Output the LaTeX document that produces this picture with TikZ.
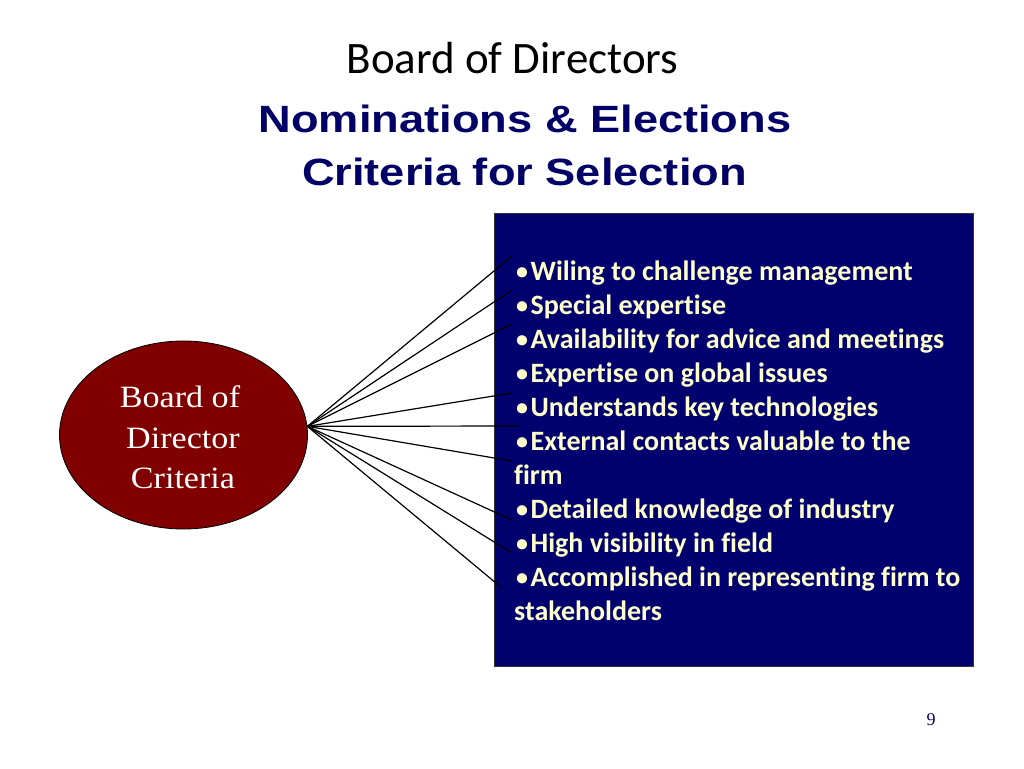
\documentclass[tikz,border=0pt]{standalone}
\usepackage{fontspec}
\usepackage{graphicx}
\setmainfont{Carlito}[Ligatures=NoCommon]
\newfontfamily\arialf{Liberation Sans}
\newfontfamily\timesf{Liberation Serif}
\usetikzlibrary{shapes.geometric}
\definecolor{navybox}{RGB}{0,0,110}
\definecolor{cream}{RGB}{255,255,204}
\definecolor{navytext}{RGB}{0,0,102}
\definecolor{maroonfill}{RGB}{128,0,0}
\newcommand{\bul}{\raisebox{1pt}{\fontsize{24}{24}\selectfont•}\hspace{2.5pt}}
\tikzset{
  txt/.style={inner sep=0pt, anchor=base},
  subtitle/.style={txt, text=navytext, font=\arialf\bfseries\fontsize{38}{44}\selectfont},
  ellabel/.style={txt, text=white, font=\timesf\fontsize{31}{36}\selectfont},
  bullet/.style={inner sep=0pt, anchor=base west, text=cream, font=\bfseries\fontsize{28}{34}\selectfont},
  conn/.style={draw=black, line width=1.2pt},
}
\begin{document}
\begin{tikzpicture}[x=1pt,y=-1pt]
  \fill[white] (0,0) rectangle (1024,768);
  \useasboundingbox (0,0) rectangle (1024,768);

  % titles
  \node[txt, font=\fontsize{45}{52}\selectfont] (t1) at (512.5,74) {Board of Directors};
  \node[subtitle] (t2) at (525,132) {\scalebox{1.19}[1]{Nominations \& Elections}};
  \node[subtitle] (t3) at (524.5,185) {\scalebox{1.19}[1]{Criteria for Selection}};

  % criteria box
  \node[draw=black!80, line width=0.6pt, fill=navybox, minimum width=479pt, minimum height=453pt,
        inner sep=0pt, anchor=north west] (box) at (494,213) {};

  \node[bullet] (l1) at (516,280) {\bul Wiling to challenge management};
  \node[bullet] (l2) at (516,314) {\bul Special expertise};
  \node[bullet] (l3) at (516,348) {\bul Availability for advice and meetings};
  \node[bullet] (l4) at (516,382) {\bul Expertise on global issues};
  \node[bullet] (l5) at (516,416) {\bul Understands key technologies};
  \node[bullet] (l6) at (516,450) {\bul External contacts valuable to the};
  \node[bullet] (l6b) at (514,484) {firm};
  \node[bullet] (l7) at (516,518) {\bul Detailed knowledge of industry};
  \node[bullet] (l8) at (516,552) {\bul High visibility in field};
  \node[bullet] (l9) at (516,586) {\bul Accomplished in representing firm to};
  \node[bullet] (l9b) at (514,620) {stakeholders};

  % ellipse
  \node[ellipse, draw=black, line width=0.8pt, fill=maroonfill, minimum width=248pt,
        minimum height=188pt, inner sep=0pt] (bod) at (183.5,435) {};
  \node[ellabel] (e1) at (180,407) {\scalebox{1.1}[1]{Board of}};
  \node[ellabel] (e2) at (183,448) {\scalebox{1.1}[1]{Director}};
  \node[ellabel] (e3) at (183,488) {\scalebox{1.1}[1]{Criteria}};

  % connector ends
  \coordinate (c1) at (512,256);
  \coordinate (c2) at (512,290);
  \coordinate (c3) at (512,324);
  \coordinate (c4) at (512,393);
  \coordinate (c5) at (520,426);
  \coordinate (c6) at (512,461);
  \coordinate (c7) at (512,520);
  \coordinate (c8) at (512,553);
  \coordinate (c9) at (502,588);
  \foreach \c in {c1,c2,c3,c4,c5,c6,c7,c8,c9}
    \draw[conn] (bod.4) -- (\c);

  % page number
  \node[txt, text=navytext, font=\timesf\fontsize{18}{20}\selectfont] (pg) at (931,725) {9};
\end{tikzpicture}
\end{document}
